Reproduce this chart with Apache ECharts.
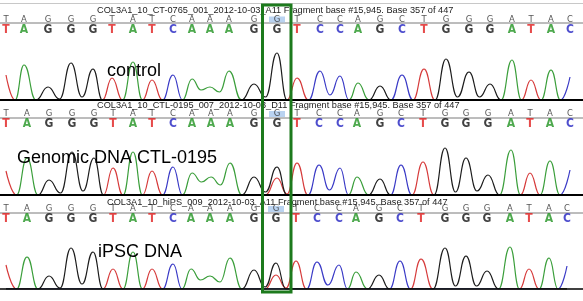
<!DOCTYPE html>
<html><head><meta charset="utf-8">
<script src="https://cdn.jsdelivr.net/npm/echarts@6/dist/echarts.min.js"></script>
<style>html,body{margin:0;padding:0;background:#fff;overflow:hidden}#c{width:583px;height:301px}</style>
</head><body><div id="c"></div>
<script>
// ---- data ----
const bases = ['T','A','G','G','G','T','A','T','C','A','A','A','G','G','T','C','C','A','G','C','T','G','G','G','A','T','A','C'];
const highlightIndex = 13;
const titles = [
  'COL3A1_10_CT-0765_001_2012-10-03_A11 Fragment base #15,945. Base 357 of 447',
  'COL3A1_10_CTL-0195_007_2012-10-03_D11 Fragment base #15,945. Base 357 of 447',
  'COL3A1_10_hiPS_009_2012-10-03_A11 Fragment base #15,945. Base 357 of 447'
];
const sampleNames = ['control', 'Genomic DNA CTL-0195', 'iPSC DNA'];
// base call positions (scan units)
const pos1 = [6,24,48,71,93,112,133,152,173,192,210,229,254,277,297,320,340,358,380,402,424,446,469,490,512,531,551,570];
const pos2 = [6,27,49,72,94,113,133,152,173,192,211,230,254,277,297,319,340,357,380,401,423,445,466,488,511,530,550,570];
const pos3 = [6,27,49,71,93,113,133,152,173,191,210,230,254,276,296,317,339,356,379,400,421,445,466,487,510,529,549,567];
// primary peak heights per base
const height1 = [25,35,13,37,31,22,38,20,25,21,13,29,16,47,22,29,24,17,14,25,31,41,28,16,40,20,30,23];
const height2 = [24,37,15,43,37,27,43,24,28,22,18,32,18,28,32,30,27,18,16,30,33,47,37,20,45,22,34,25];
const height3 = [24,32,13,41,37,20,37,20,25,20,13,31,19,26,28,27,24,17,14,28,30,41,33,18,42,20,31,23];
// valley heights between neighbouring peaks of the same dye (index i = between base i and i+1)
const valley1 = [0,0,1,3,0,0,0,0,0,10,8,0,3,0,0,5,0,0,0,0,0,3,3,0,0,0,0];
const valley2 = [0,0,2,4,0,0,0,0,0,13,10,0,3,1,0,5,0,0,0,0,0,3,4,0,0,0,0];
const valley3 = [0,0,1,5,0,0,0,0,0,9,7,0,2,1,0,4,0,0,0,0,0,3,3,0,0,0,0];
// secondary peaks: [base index, dye, height]
const secondary1 = [];
const secondary2 = [[13,'T',17]];
const secondary3 = [[13,'T',14]];

// ---- layout / style ----
const traceColor = {A:'#3a9e3a', C:'#3a3ac6', G:'#1c1c1c', T:'#d63a3a'};
const letterColor = {A:'#229422', C:'#2222c0', G:'#111111', T:'#e01e1e'};
const panels = [
  {pos:pos1, h:height1, v:valley1, sec:secondary1, base:100, small:19.5, big:29.5, titleY:10, titleX:97, nameX:107, nameY:62, sep:23},
  {pos:pos2, h:height2, v:valley2, sec:secondary2, base:195, small:114, big:124, titleY:105, titleX:97, nameX:17, nameY:149, sep:118},
  {pos:pos3, h:height3, v:valley3, sec:secondary3, base:289, small:209, big:219, titleY:202, titleX:107, nameX:98, nameY:243, sep:213}
];

function channelData(p, ch) {
  const n = p.pos.length;
  const secOf = i => p.sec.find(s => s[0] === i && s[1] === ch);
  const has = i => bases[i] === ch || !!secOf(i);
  const val = i => bases[i] === ch ? p.h[i] : (secOf(i) ? secOf(i)[2] : 0);
  const out = [];
  for (let i = 0; i < n; i++) {
    out.push([p.pos[i], val(i)]);
    if (i < n - 1) out.push([(p.pos[i] + p.pos[i+1]) / 2, (has(i) && has(i+1)) ? p.v[i] : 0]);
  }
  return out;
}

// fit title font size so the first title spans the reference width
const cv = document.createElement('canvas').getContext('2d');
const titleFamily = 'Liberation Sans';
cv.font = '10px "' + titleFamily + '"';
const titleSize = Math.round(10 * 356 / cv.measureText(titles[0]).width * 10) / 10;

const grid = [], xAxis = [], yAxis = [], series = [], graphic = [];
panels.forEach((p, k) => {
  grid.push({left:0, right:0, top:p.base - 60, height:60});
  xAxis.push({gridIndex:k, type:'value', min:0, max:583, z:5,
    axisLine:{show:true, onZero:false, lineStyle:{color:'#000', width:k === 2 ? 1.5 : 2}},
    axisTick:{show:false}, axisLabel:{show:false}, splitLine:{show:false}});
  yAxis.push({gridIndex:k, type:'value', min:0, max:60, show:false});
  ['T','A','C','G'].forEach(ch => {
    series.push({type:'line', xAxisIndex:k, yAxisIndex:k, data:channelData(p, ch),
      smooth:0.5, smoothMonotone:'x', symbol:'none', silent:true,
      lineStyle:{color:traceColor[ch], width:1.2}});
  });
});
panels.forEach((p, k) => {
  const gi = 3 + k;
  grid.push({left:0, right:0, top:p.small, height:p.big - p.small});
  xAxis.push({gridIndex:gi, type:'value', min:0, max:583, show:false});
  yAxis.push({gridIndex:gi, type:'value', min:0, max:1, show:false});
  series.push({type:'scatter', xAxisIndex:gi, yAxisIndex:gi, silent:true, z:3,
    data: bases.map((b, i) => ({
      value:[p.pos[i], 1], name:b,
      symbol: i === highlightIndex ? 'rect' : 'circle',
      symbolSize: i === highlightIndex ? [16, 6] : 1,
      itemStyle:{color: i === highlightIndex ? '#a9c8ee' : 'rgba(0,0,0,0)'}
    })),
    label:{show:true, position:'inside', formatter:'{b}', color:'#2a2a2a', fontSize:8.5, fontFamily:'DejaVu Sans'}
  });
  series.push({type:'scatter', xAxisIndex:gi, yAxisIndex:gi, silent:true, z:3,
    data: bases.map((b, i) => ({value:[p.pos[i], 0], name:b, label:{color:letterColor[b]}})),
    symbolSize:1, itemStyle:{color:'rgba(0,0,0,0)'},
    label:{show:true, position:'inside', formatter:'{b}', fontSize:12, fontWeight:'bold', fontFamily:'DejaVu Sans Condensed'}
  });
  graphic.push({type:'line', z:1, shape:{x1:0, y1:p.sep, x2:583, y2:p.sep}, style:{stroke:'#7a7a7a', lineWidth:1}});
  graphic.push({type:'text', z:4, x:p.titleX, y:p.titleY,
    style:{text:titles[k], fill:'#222', font:titleSize + 'px "' + titleFamily + '"', textVerticalAlign:'middle'}});
  graphic.push({type:'text', z:4, x:p.nameX, y:p.nameY,
    style:{text:sampleNames[k], fill:'#000', font:'18px "Liberation Sans"', textVerticalAlign:'alphabetic'}});
});
graphic.push({type:'line', z:1, shape:{x1:0, y1:3.5, x2:583, y2:3.5}, style:{stroke:'#c8c8c8', lineWidth:1}});
graphic.push({type:'rect', z:100, shape:{x:262.5, y:5, width:28.5, height:287}, style:{fill:'none', stroke:'#1d7a1d', lineWidth:3}});

const chart = echarts.init(document.getElementById('c'), null, {renderer:'canvas'});
chart.setOption({animation:false, backgroundColor:'#fff', grid, xAxis, yAxis, series, graphic});
</script></body></html>
